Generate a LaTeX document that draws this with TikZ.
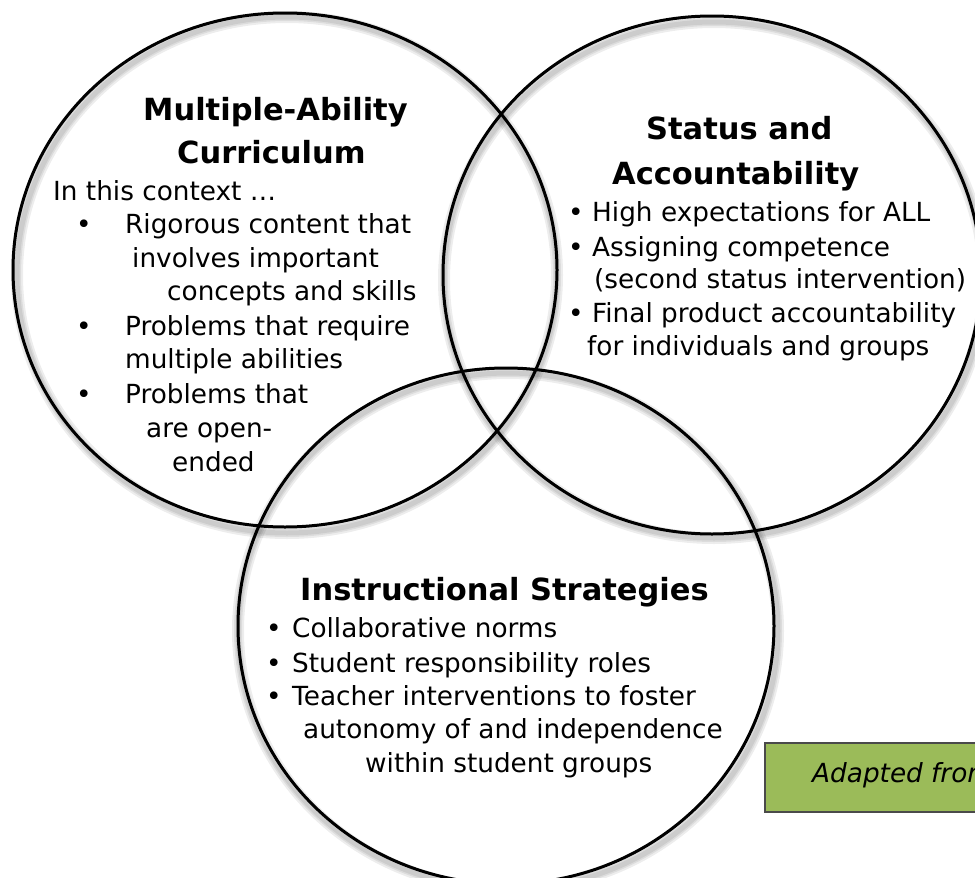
\documentclass[tikz,border=0pt]{standalone}
\usepackage{fontspec}
\setmainfont{DejaVu Sans}
\usetikzlibrary{calc}
\newcommand{\bodyfont}{\fontsize{26.3}{32}\selectfont}
\newcommand{\headfont}{\fontsize{30.5}{37}\selectfont\bfseries}
\definecolor{boxgreen}{HTML}{9BBB59}
\definecolor{boxedge}{HTML}{4A4A4A}
\tikzset{
  ring/.style={line width=3pt, draw=black},
  ringshadow/.style={draw=black, line width=#1, opacity=0.07},
  txt/.style={anchor=base west, inner sep=0pt, font=\bodyfont},
  head/.style={anchor=base west, inner sep=0pt, font=\headfont},
  dot/.style={anchor=base west, inner sep=0pt, font=\bodyfont},
  srcbox/.style={fill=boxgreen, draw=boxedge, line width=1.2pt}
}
\begin{document}
\begin{tikzpicture}[x=1pt, y=-1pt]
\useasboundingbox (0,0) rectangle (975,878);
\clip (0,0) rectangle (975,878);

% ring centres
\coordinate (cA) at (285,270);
\coordinate (cB) at (712,275);
\coordinate (cC) at (506,626);

% soft shadows under the rings
\foreach \c in {cA,cB,cC}{
  \foreach \w in {12,8,5}{
    \draw[ringshadow=\w pt] ($(\c)+(2,5)$) ellipse [x radius=270, y radius=258];
  }
}

% the three rings
\draw[ring] (cA) ellipse [x radius=272, y radius=257];
\draw[ring] (cB) ellipse [x radius=269, y radius=259];
\draw[ring] (cC) ellipse [x radius=268, y radius=258];

% Multiple-Ability Curriculum
\node[head] (a1) at (143,120) {Multiple-Ability};
\node[head] (a2) at (177,163) {Curriculum};
\node[txt]  (a3) at (53,200) {In this context …};
\node[dot]  (ad1) at (76,233) {•};
\node[txt]  (a4) at (125,233) {Rigorous content that};
\node[txt]  (a5) at (132,267) {involves important};
\node[txt]  (a6) at (167,300) {concepts and skills};
\node[dot]  (ad2) at (76,335) {•};
\node[txt]  (a7) at (125,335) {Problems that require};
\node[txt]  (a8) at (125,368) {multiple abilities};
\node[dot]  (ad3) at (76,403) {•};
\node[txt]  (a9) at (125,403) {Problems that};
\node[txt]  (a10) at (146,437) {are open-};
\node[txt]  (a11) at (172,471) {ended};

% Status and Accountability
\node[head] (b1) at (646,139) {Status and};
\node[head] (b2) at (612,184) {Accountability};
\node[dot]  (bd1) at (568,221) {•};
\node[txt]  (b3) at (592,221) {High expectations for ALL};
\node[dot]  (bd2) at (568,256) {•};
\node[txt]  (b4) at (592,256) {Assigning competence};
\node[txt]  (b5) at (594,288) {(second status intervention)};
\node[dot]  (bd3) at (568,322) {•};
\node[txt]  (b6) at (592,322) {Final product accountability};
\node[txt]  (b7) at (587,355) {for individuals and groups};

% Instructional Strategies
\node[head] (c1) at (300,600) {Instructional Strategies};
\node[dot]  (cd1) at (266,637) {•};
\node[txt]  (c2) at (292,637) {Collaborative norms};
\node[dot]  (cd2) at (266,672) {•};
\node[txt]  (c3) at (292,672) {Student responsibility roles};
\node[dot]  (cd3) at (266,705) {•};
\node[txt]  (c4) at (292,705) {Teacher interventions to foster};
\node[txt]  (c5) at (303,738) {autonomy of and independence};
\node[txt]  (c6) at (365,772) {within student groups};

% source note
\draw[srcbox] (765,743) rectangle (1000,812);
\node[txt, font=\bodyfont\itshape] (src) at (812,782) {Adapted from};
\end{tikzpicture}
\end{document}
